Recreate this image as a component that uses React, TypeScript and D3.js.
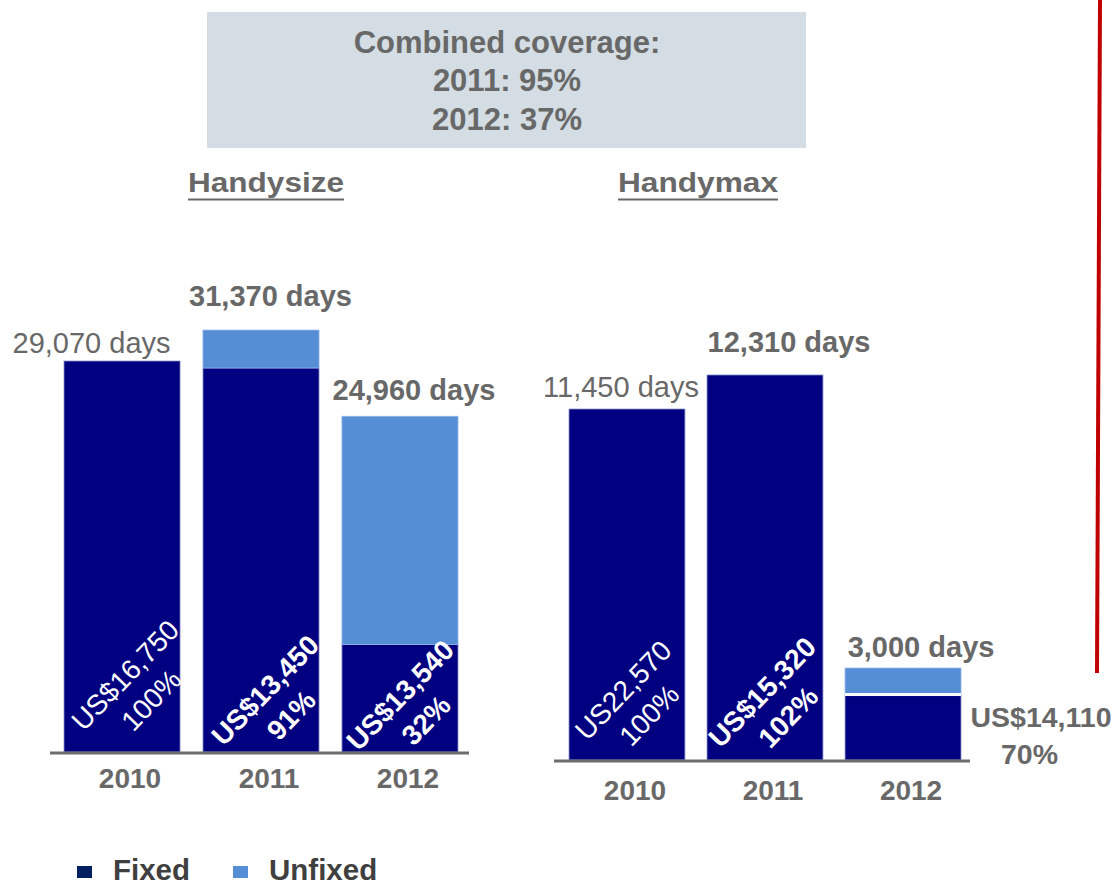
import React from 'react';
import * as d3 from 'd3';

// ---------- data ----------
const years = ['2010', '2011', '2012'];

const handysizeDays = [29070, 31370, 24960];
const handysizeFixedDays = [29070, 28550, 7990];
const handysizeRates = ['US$16,750', 'US$13,450', 'US$13,540'];
const handysizeCoverage = ['100%', '91%', '32%'];

const handymaxDays = [11450, 12310, 3000];
const handymaxFixedDays = [11450, 12560, 2100];
const handymaxRates = ['US22,570', 'US$15,320', 'US$14,110'];
const handymaxCoverage = ['100%', '102%', '70%'];

const titleLines = ['Combined coverage:', '2011: 95%', '2012: 37%'];
const legendItems = ['Fixed', 'Unfixed'];

// ---------- style / layout ----------
const FONT = '"Liberation Sans", Arial, Helvetica, sans-serif';
const GRAY = '#686868';
const FIXED = '#000080';
const UNFIXED = '#558ED5';

type Panel = {
  name: string;
  days: number[];
  fixed: number[];
  rates: string[];
  cov: string[];
  baseline: number;
  refTop: number;
  xRange: [number, number];
  pad: number;
  axis: [number, number];
  yearBase: number;
  headCx: number;
  headLen: number;
  dayOff: [number, number][];
  inLabelOff: ([number, number] | null)[];
  gap: boolean;
};

const panels: Panel[] = [
  {
    name: 'Handysize', days: handysizeDays, fixed: handysizeFixedDays,
    rates: handysizeRates, cov: handysizeCoverage,
    baseline: 752, refTop: 361, xRange: [64, 458], pad: 0.165, axis: [50, 469],
    yearBase: 788, headCx: 266, headLen: 156,
    dayOff: [[-30.5, -8], [9.5, -24], [14, -16]],
    inLabelOff: [[3, -77], [4, -62], [0, -57]],
    gap: false,
  },
  {
    name: 'Handymax', days: handymaxDays, fixed: handymaxFixedDays,
    rates: handymaxRates, cov: handymaxCoverage,
    baseline: 760, refTop: 409, xRange: [569, 961], pad: 0.16, axis: [554, 970],
    yearBase: 800, headCx: 698, headLen: 160,
    dayOff: [[-6, -12], [24, -23], [18, -11]],
    inLabelOff: [[-4, -70], [-3, -68], null],
    gap: true,
  },
];

const fmt = d3.format(',');

function PanelView({ p }: { p: Panel }) {
  const x = d3.scaleBand<string>().domain(years).range(p.xRange).paddingInner(p.pad).paddingOuter(0);
  const y = d3.scaleLinear().domain([0, p.days[0]]).range([p.baseline, p.refTop]);
  const bw = x.bandwidth();
  return (
    <g>
      <text x={p.headCx} y={192} textAnchor="middle" fontSize={27} fontWeight="bold" fill={GRAY}
        textLength={p.headLen} lengthAdjust="spacingAndGlyphs">{p.name}</text>
      <rect x={p.headCx - p.headLen / 2} y={198.5} width={p.headLen} height={2} fill={GRAY} />
      {years.map((yr, i) => {
        const x0 = x(yr)!;
        const cx = x0 + bw / 2;
        const total = p.days[i];
        const fixed = p.fixed[i];
        const top = y(Math.max(total, fixed));
        const bold = i > 0;
        const lab = p.inLabelOff[i];
        return (
          <g key={yr}>
            <rect x={x0} y={y(fixed)} width={bw} height={p.baseline - y(fixed)} fill={FIXED}
              stroke="#8c93c8" strokeWidth={0.8} />
            {total > fixed && (
              <rect x={x0} y={y(total)} width={bw} height={y(fixed) - y(total)} fill={UNFIXED}
                stroke="#8fb3e6" strokeWidth={0.8} />
            )}
            {p.gap && total > fixed && (
              <line x1={x0} x2={x0 + bw} y1={y(fixed) - 1} y2={y(fixed) - 1} stroke="#fff" strokeWidth={3} />
            )}
            <text x={cx + p.dayOff[i][0]} y={top + p.dayOff[i][1]} textAnchor="middle" fontSize={29}
              fontWeight={bold ? 'bold' : 'normal'} fill={GRAY}>{fmt(total) + ' days'}</text>
            {lab ? (
              <g transform={`translate(${cx + lab[0]},${p.baseline + lab[1]}) rotate(-46)`}>
                <text x={0} y={10} textAnchor="middle" fontSize={28} fontWeight={bold ? 'bold' : 'normal'} fill="#fff">{p.rates[i]}</text>
                <text x={0} y={46} textAnchor="middle" fontSize={28} fontWeight={bold ? 'bold' : 'normal'} fill="#fff">{p.cov[i]}</text>
              </g>
            ) : (
              <g>
                <text x={x0 + bw + 80} y={727} textAnchor="middle" fontSize={28.5} fontWeight="bold" fill={GRAY}>{p.rates[i]}</text>
                <text x={x0 + bw + 68.5} y={764} textAnchor="middle" fontSize={28.5} fontWeight="bold" fill={GRAY}>{p.cov[i]}</text>
              </g>
            )}
            <text x={cx + 8} y={p.yearBase} textAnchor="middle" fontSize={28} fontWeight="bold" fill={GRAY}>{yr}</text>
          </g>
        );
      })}
      <line x1={p.axis[0]} x2={p.axis[1]} y1={p.baseline + 1} y2={p.baseline + 1} stroke="#6e6e6e" strokeWidth={3} />
    </g>
  );
}

export default function App() {
  const legendColors = ['#002060', UNFIXED];
  const legendX = [77, 233];
  return (
    <svg width={1116} height={885} style={{ position: 'absolute', left: 0, top: 0, display: 'block' }}
      fontFamily={FONT}>
      <rect x={0} y={0} width={1116} height={885} fill="#fff" />
      <rect x={207} y={12} width={599} height={136} fill="#D3DDE3" />
      {titleLines.map((t, i) => (
        <text key={t} x={507} y={[53, 91, 130][i]} textAnchor="middle" fontSize={31} fontWeight="bold" fill={GRAY}>{t}</text>
      ))}
      {panels.map(p => <PanelView key={p.name} p={p} />)}
      <line x1={1100} y1={0} x2={1097} y2={673} stroke="#C00000" strokeWidth={4} />
      {legendItems.map((t, i) => (
        <g key={t}>
          <rect x={legendX[i]} y={866} width={15} height={12} fill={legendColors[i]} />
          <text x={legendX[i] + 36} y={880} fontSize={29.5} fontWeight="bold" fill="#3f3f3f">{t}</text>
        </g>
      ))}
    </svg>
  );
}
